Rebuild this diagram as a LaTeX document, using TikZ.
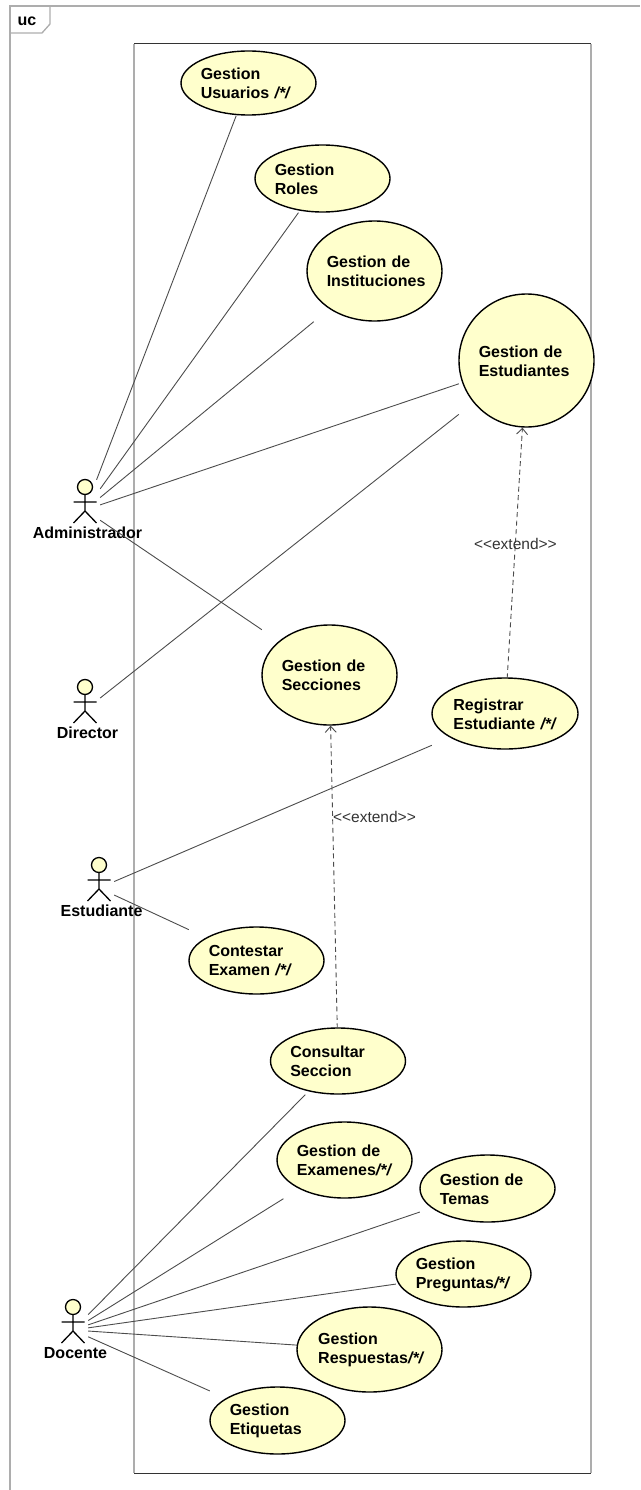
\documentclass[tikz,border=0pt]{standalone}
\usepackage{fontspec}
\setmainfont{Liberation Sans}
\usetikzlibrary{arrows.meta}
\definecolor{ucfill}{HTML}{FFFFCC}
\tikzset{
	usecase/.style={draw=black, fill=ucfill, line width=1.4pt},
	usecasetext/.style={inner sep=0pt, yshift=-0.5pt, align=left, font=\fontsize{16}{19}\selectfont\bfseries},
	actorbox/.style={inner sep=0pt, minimum width=30pt, minimum height=60pt},
	actorline/.style={draw=black, line width=1.3pt},
	actorname/.style={inner sep=0pt, font=\fontsize{16}{18}\selectfont\bfseries},
	assoc/.style={draw=black!70, line width=0.9pt},
	extendline/.style={draw=black!70, line width=0.9pt, dash pattern=on 5pt off 3.5pt, -{Straight Barb[length=6pt,width=11pt]}},
	extendname/.style={inner sep=0pt, text=black!80, font=\fontsize{15.5}{18}\selectfont},
	framegray/.style={draw=black!32, line width=1.3pt},
	framedark/.style={draw=black!80, line width=1pt}
}
\begin{document}
\begin{tikzpicture}[x=1pt,y=-1pt]
	\useasboundingbox (0,0) rectangle (640,1490);
	% outer frame and tag
	\draw[framegray] (10,1490)--(10,6)--(640,6);
	\draw[framegray] (10,33)--(42,33)--(50,24)--(50,6);
	\node[inner sep=0pt, font=\fontsize{16}{18}\selectfont\bfseries] (tag) at (27,21) {uc};
	% system boundary
	\draw[framegray] (134,44)--(134,1473) (591,44)--(591,1473);
	\draw[framedark] (134,44)--(591,44) (134,1473)--(591,1473);
	% use cases
	\foreach \name/\x/\y/\w/\h/\txt in {
		gestionUsuarios/248.5/83/135/64/{Gestion\\\mbox{Usuarios \textit{/*/}}},
		gestionRoles/322.5/178.5/135/67/{Gestion\\Roles},
		gestionInstituciones/374.5/271/135/100/{Gestion de\\Instituciones},
		gestionEstudiantes/526.5/360.5/135/133/{Gestion de\\Estudiantes},
		gestionSecciones/329.5/675/135/100/{Gestion de\\Secciones},
		registrarEstudiante/505/713.5/146/71/{Registrar\\\mbox{Estudiante \textit{/*/}}},
		contestarExamen/256.5/960.5/135/67/{Contestar\\\mbox{Examen \textit{/*/}}},
		consultarSeccion/338/1061/135/66/{Consultar\\Seccion},
		gestionExamenes/344.5/1160/135/76/{Gestion de\\\mbox{Examenes\textit{/*/}}},
		gestionTemas/487.5/1188.5/135/67/{Gestion de\\Temas},
		gestionPreguntas/463.5/1274/135/66/{Gestion\\\mbox{Preguntas\textit{/*/}}},
		gestionRespuestas/369.5/1349.5/145/85/{Gestion\\\mbox{Respuestas\textit{/*/}}},
		gestionEtiquetas/277.5/1420.5/135/67/{Gestion\\Etiquetas}}{
		\pgfmathsetmacro{\tw}{\w/1.414}
		\draw[usecase] (\x,\y) ellipse ({\w/2} and {\h/2});
		\node[usecasetext, text width=\tw pt, minimum width=\w pt, minimum height=\h pt] (\name) at (\x,\y) {\txt};
	}
	% actors
	\foreach \name/\x/\y/\txt in {administrador/85/510/Administrador, director/85/710/Director, estudiante/99/888/Estudiante, docente/73/1330/Docente}{
		\node[actorbox] (\name) at (\x,\y) {};
		\draw[actorline, fill=ucfill] (\x,\y-23) circle (7.5);
		\draw[actorline] (\x,\y-15.5)--(\x,\y+1) (\x-11.5,\y-8)--(\x+11.5,\y-8) (\x-11.5,\y+13)--(\x,\y+1)--(\x+11.5,\y+13);
		\node[actorname] (\name name) at (\x+2.5,\y+23) {\txt};
	}
	% associations
	\foreach \a/\b in {administrador/gestionUsuarios, administrador/gestionRoles, administrador/gestionInstituciones, administrador/gestionEstudiantes, administrador/gestionSecciones, director/gestionEstudiantes, estudiante/registrarEstudiante, estudiante/contestarExamen, docente/consultarSeccion, docente/gestionExamenes, docente/gestionTemas, docente/gestionPreguntas, docente/gestionRespuestas, docente/gestionEtiquetas}{
		\draw[assoc] (\a)--(\b);
	}
	% extend
	\draw[extendline] (registrarEstudiante)--(gestionEstudiantes) node[extendname, pos=.538] (extendA) {<{}<extend>{}>};
	\draw[extendline] (consultarSeccion)--(gestionSecciones) node[extendname, pos=.697, right] (extendB) {<{}<extend>{}>};
\end{tikzpicture}
\end{document}
